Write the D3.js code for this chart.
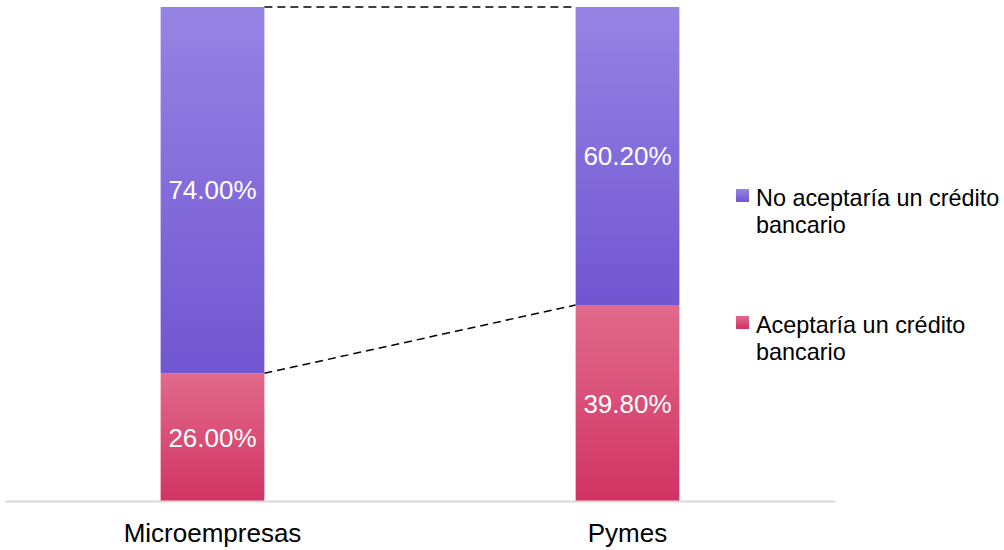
<!DOCTYPE html>
<html><head><meta charset="utf-8">
<script src="https://cdn.jsdelivr.net/npm/d3@7"></script>
<style>body{margin:0;background:#fff;}svg{display:block;font-family:"Liberation Sans",Arial,sans-serif;}</style>
</head><body><svg id="c" width="1004" height="550"></svg>
<script>
const categories = ["Microempresas", "Pymes"];
const seriesNames = ["Aceptaría un crédito bancario", "No aceptaría un crédito bancario"];
const acepta = [26.0, 39.8];
const noAcepta = [74.0, 60.2];
const legendLines = [["No aceptaría un crédito", "bancario"], ["Aceptaría un crédito", "bancario"]];

const svg = d3.select("#c");
const defs = svg.append("defs");
function grad(id, top, bot){
  const g = defs.append("linearGradient").attr("id", id).attr("x1",0).attr("y1",0).attr("x2",0).attr("y2",1);
  g.append("stop").attr("offset","0%").attr("stop-color", top);
  g.append("stop").attr("offset","100%").attr("stop-color", bot);
}
grad("gp", "#9684e4", "#7155d1");
grad("gr", "#e16a8b", "#d13363");

const x = d3.scaleBand().domain(categories).range([5, 835]).paddingInner(0.75).paddingOuter(0.375);
const y = d3.scaleLinear().domain([0, 100]).range([502, 7]);

const rows = categories.map((c, i) => ({c, a: acepta[i], n: noAcepta[i]}));

// dashed connectors
const stackTop = rows.map(r => r.a + r.n);
svg.append("line").attr("x1", x(categories[0]) + x.bandwidth()).attr("x2", x(categories[1]))
  .attr("y1", y(stackTop[0])).attr("y2", y(stackTop[1]))
  .attr("stroke", "#000").attr("stroke-width", 1.5).attr("stroke-dasharray", "8,5");
svg.append("line").attr("x1", x(categories[0]) + x.bandwidth()).attr("x2", x(categories[1]))
  .attr("y1", y(rows[0].a)).attr("y2", y(rows[1].a))
  .attr("stroke", "#000").attr("stroke-width", 1.5).attr("stroke-dasharray", "8,5");

const g = svg.append("g");
g.selectAll("rect.a").data(rows).join("rect").attr("class","a")
  .attr("x", d => x(d.c)).attr("width", x.bandwidth())
  .attr("y", d => y(d.a)).attr("height", d => y(0) - y(d.a)).attr("fill", "url(#gr)");
g.selectAll("rect.n").data(rows).join("rect").attr("class","n")
  .attr("x", d => x(d.c)).attr("width", x.bandwidth())
  .attr("y", d => y(d.a + d.n)).attr("height", d => y(d.a) - y(d.a + d.n)).attr("fill", "url(#gp)");

const fmt = v => v.toFixed(2) + "%";
g.selectAll("text.la").data(rows).join("text").attr("class","la")
  .attr("x", d => x(d.c) + x.bandwidth()/2).attr("y", d => y(d.a/2))
  .attr("dy", "0.35em").attr("text-anchor","middle").attr("fill","#fff").attr("font-size", 26)
  .text(d => fmt(d.a));
g.selectAll("text.ln").data(rows).join("text").attr("class","ln")
  .attr("x", d => x(d.c) + x.bandwidth()/2).attr("y", d => y(d.a + d.n/2))
  .attr("dy", "0.35em").attr("text-anchor","middle").attr("fill","#fff").attr("font-size", 26)
  .text(d => fmt(d.n));

// axis
const ax = svg.append("g").attr("transform", "translate(0,501)")
  .call(d3.axisBottom(x).tickSize(0).tickPadding(23));
ax.select(".domain").attr("stroke", "#d9d9d9").attr("stroke-width", 2);
ax.selectAll("text").attr("font-size", 26).attr("fill", "#000").attr("font-family", "Liberation Sans, Arial, sans-serif");

// legend
const legY = [206, 333];
const legFill = ["url(#gp)", "url(#gr)"];
legendLines.forEach((lines, i) => {
  const lg = svg.append("g").attr("transform", `translate(736,${legY[i]})`);
  lg.append("rect").attr("x", 0).attr("y", -17).attr("width", 13).attr("height", 13).attr("fill", legFill[i]);
  const t = lg.append("text").attr("x", 20).attr("y", 0).attr("font-size", 23.4).attr("fill", "#000");
  lines.forEach((l, j) => t.append("tspan").attr("x", 20).attr("dy", j ? 27 : 0).text(l));
});
</script></body></html>
